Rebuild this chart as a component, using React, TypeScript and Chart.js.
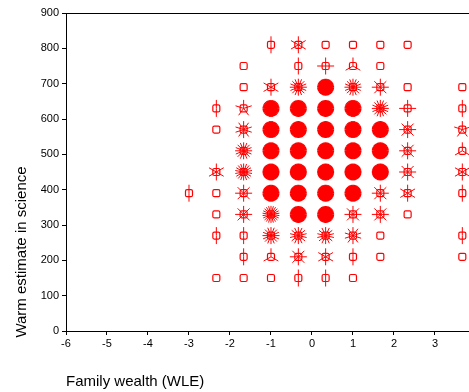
import React, { useEffect, useRef } from "react";
import { Chart, registerables } from "chart.js";

Chart.register(...registerables);

// Wealth bins (x) and science score bins (y)
const xBins = [-3, -2.333, -1.667, -1, -0.333, 0.333, 1, 1.667, 2.333, 3.667];
const yBins = [810, 750, 690, 630, 570, 510, 450, 390, 330, 270, 210, 150];

// Number of petals (cases) per cell; one row per yBins entry, one column per xBins entry
const row810 = [0, 0, 0, 2, 6, 1, 1, 1, 1, 0];
const row750 = [0, 0, 1, 0, 2, 4, 3, 1, 0, 0];
const row690 = [0, 0, 1, 6, 16, 34, 16, 8, 1, 1];
const row630 = [0, 2, 5, 34, 34, 34, 34, 16, 4, 2];
const row570 = [0, 1, 10, 34, 34, 34, 34, 34, 8, 5];
const row510 = [0, 0, 16, 34, 34, 34, 34, 34, 8, 3];
const row450 = [0, 6, 18, 34, 34, 34, 34, 34, 8, 6];
const row390 = [2, 1, 8, 34, 34, 34, 34, 8, 6, 2];
const row330 = [0, 1, 8, 22, 34, 34, 8, 8, 1, 0];
const row270 = [0, 2, 2, 16, 14, 14, 10, 1, 0, 2];
const row210 = [0, 0, 2, 3, 8, 6, 2, 1, 0, 1];
const row150 = [0, 1, 1, 1, 2, 2, 1, 0, 0, 0];
const countRows = [row810, row750, row690, row630, row570, row510, row450, row390, row330, row270, row210, row150];

const xTicks = [-6, -5, -4, -3, -2, -1, 0, 1, 2, 3];
const yTicks = [0, 100, 200, 300, 400, 500, 600, 700, 800, 900];

const xTitle = "Family wealth (WLE)";
const yTitle = "Warm estimate in science";

const FONT = "'Liberation Sans', Arial, sans-serif";
const RED = "#ff0000";

export default function App() {
  const ref = useRef<HTMLCanvasElement | null>(null);

  useEffect(() => {
    const points: { x: number; y: number }[] = [];
    const counts: number[] = [];
    countRows.forEach((row, ri) => {
      row.forEach((c, ci) => {
        if (c > 0) {
          points.push({ x: xBins[ci], y: yBins[ri] });
          counts.push(c);
        }
      });
    });

    const sunflowers = {
      id: "sunflowers",
      afterDatasetsDraw(chart: any) {
        const ctx = chart.ctx;
        const meta = chart.getDatasetMeta(0);
        ctx.save();
        ctx.strokeStyle = RED;
        meta.data.forEach((el: any, i: number) => {
          const n = counts[i];
          const cx = el.x;
          const cy = el.y;
          const r = 8.5;
          ctx.lineWidth = n > 30 ? 1.4 : 1;
          if (n > 1) {
            ctx.beginPath();
            for (let k = 0; k < n; k++) {
              const a = -Math.PI / 2 + (k * 2 * Math.PI) / n;
              ctx.moveTo(cx, cy);
              ctx.lineTo(cx + r * Math.cos(a), cy + r * Math.sin(a));
            }
            ctx.stroke();
          }
          const s = 3.5;
          ctx.lineWidth = 1.2;
          ctx.beginPath();
          if ((ctx as any).roundRect) {
            (ctx as any).roundRect(cx - s, cy - s, 2 * s, 2 * s, 1.5);
          } else {
            ctx.rect(cx - s, cy - s, 2 * s, 2 * s);
          }
          ctx.stroke();
        });
        ctx.restore();
      },
      afterDraw(chart: any) {
        const ctx = chart.ctx;
        const area = chart.chartArea;
        ctx.save();
        ctx.strokeStyle = "#000";
        ctx.lineWidth = 1;
        ctx.beginPath();
        ctx.moveTo(area.left, area.top + 0.5);
        ctx.lineTo(area.right, area.top + 0.5);
        ctx.stroke();
        ctx.fillStyle = "#000";
        ctx.font = `15px ${FONT}`;
        ctx.textAlign = "left";
        ctx.textBaseline = "alphabetic";
        ctx.fillText(xTitle, 66, 386);
        ctx.translate(26, 252);
        ctx.rotate(-Math.PI / 2);
        ctx.textAlign = "center";
        ctx.fillText(yTitle, 0, 0);
        ctx.restore();
      },
    };

    const chart = new Chart(ref.current as HTMLCanvasElement, {
      type: "scatter",
      data: {
        datasets: [
          {
            data: points,
            pointRadius: 0,
            pointHoverRadius: 0,
            borderColor: RED,
            backgroundColor: RED,
          },
        ],
      },
      options: {
        animation: false,
        responsive: false,
        events: [],
        layout: { padding: { top: 13, right: 0, left: 0, bottom: 0 } },
        plugins: { legend: { display: false }, tooltip: { enabled: false } },
        scales: {
          x: {
            type: "linear",
            min: -6,
            max: 3.83,
            afterFit: (s: any) => {
              s.height = 61;
            },
            afterBuildTicks: (s: any) => {
              s.ticks = xTicks.map((v) => ({ value: v }));
            },
            ticks: {
              font: { family: FONT, size: 11 },
              color: "#000",
              padding: 2,
              maxRotation: 0,
              callback: (v: any) => String(v),
            },
            grid: { drawOnChartArea: false, drawTicks: true, tickLength: 4, color: "#000" },
            border: { color: "#000", width: 1 },
          },
          y: {
            type: "linear",
            min: 0,
            max: 900,
            afterFit: (s: any) => {
              s.width = 66;
            },
            afterBuildTicks: (s: any) => {
              s.ticks = yTicks.map((v) => ({ value: v }));
            },
            ticks: {
              font: { family: FONT, size: 11 },
              color: "#000",
              padding: 3,
              callback: (v: any) => String(v),
            },
            grid: { drawOnChartArea: false, drawTicks: true, tickLength: 4, color: "#000" },
            border: { color: "#000", width: 1 },
          },
        },
      },
      plugins: [sunflowers],
    });
    return () => chart.destroy();
  }, []);

  return (
    <div style={{ position: "fixed", left: 0, top: 0, width: 469, height: 392, background: "#fff" }}>
      <canvas ref={ref} width={469} height={392} style={{ width: 469, height: 392 }} />
    </div>
  );
}
